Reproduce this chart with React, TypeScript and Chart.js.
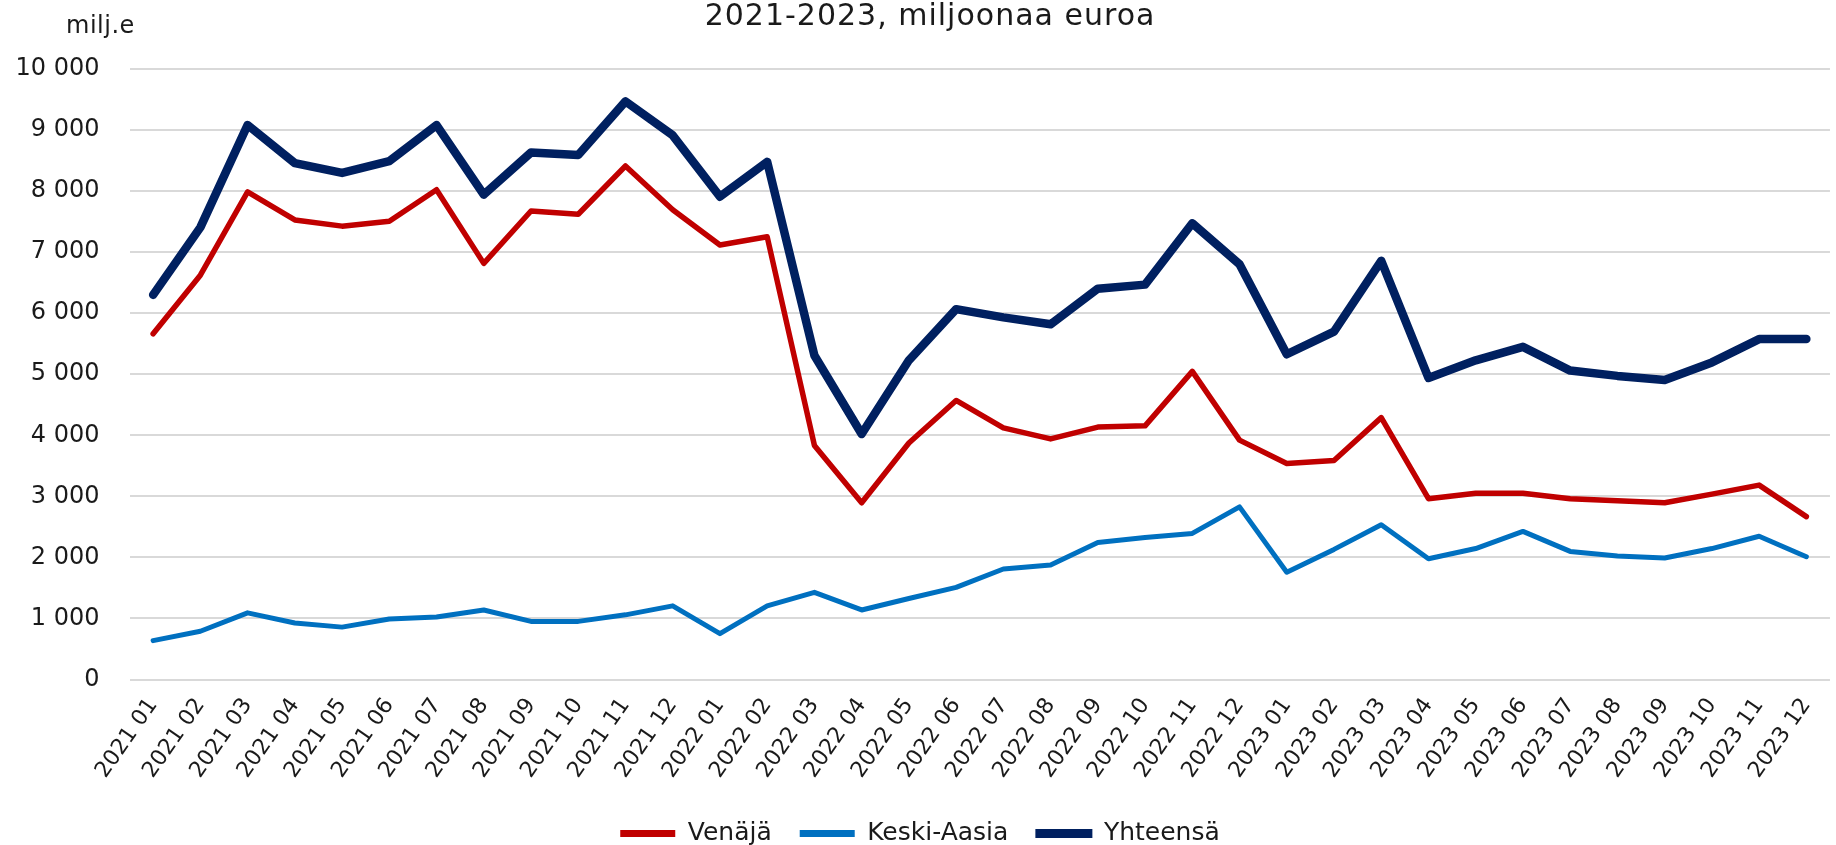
import React, { useEffect, useRef } from "react";
import { Chart, registerables } from "chart.js";

Chart.register(...registerables);

const categories = [
  "2021 01", "2021 02", "2021 03", "2021 04", "2021 05", "2021 06",
  "2021 07", "2021 08", "2021 09", "2021 10", "2021 11", "2021 12",
  "2022 01", "2022 02", "2022 03", "2022 04", "2022 05", "2022 06",
  "2022 07", "2022 08", "2022 09", "2022 10", "2022 11", "2022 12",
  "2023 01", "2023 02", "2023 03", "2023 04", "2023 05", "2023 06",
  "2023 07", "2023 08", "2023 09", "2023 10", "2023 11", "2023 12",
];

const venaja = [
  5663, 6622, 7989, 7527, 7426, 7507, 8023, 6816, 7674, 7621, 8411, 7694,
  7118, 7252, 3834, 2895, 3874, 4571, 4122, 3941, 4135, 4155, 5047, 3921,
  3539, 3586, 4290, 2962, 3050, 3050, 2962, 2929, 2895, 3036, 3184, 2668,
];

const keskiAasia = [
  637, 791, 1092, 925, 858, 992, 1025, 1139, 952, 952, 1059, 1206,
  751, 1206, 1428, 1139, 1327, 1508, 1810, 1877, 2245, 2326, 2393, 2828,
  1756, 2131, 2534, 1977, 2145, 2426, 2098, 2024, 1991, 2145, 2346, 2011,
];

const yhteensa = [
  6300, 7406, 9082, 8458, 8298, 8492, 9082, 7942, 8633, 8592, 9470, 8914,
  7909, 8479, 5308, 4021, 5228, 6066, 5932, 5818, 6401, 6468, 7473, 6803,
  5328, 5697, 6857, 4940, 5228, 5449, 5060, 4973, 4906, 5194, 5576, 5576,
];

const seriesNames = ["Venäjä", "Keski-Aasia", "Yhteensä"];
const seriesColors = ["#C00000", "#0070C0", "#002060"];
const seriesWidths = [5.5, 5, 8.5];

const titleText = "2021-2023, miljoonaa euroa";
const unitText = "milj.e";

const yTicks = { min: 0, max: 10000, step: 1000 };

const fmt = (v: number) => String(v).replace(/\B(?=(\d{3})+(?!\d))/g, " ");

const FONT = "'DejaVu Sans', Verdana, sans-serif";

const textPlugin = {
  id: "textPlugin",
  afterDraw(chart: any) {
    const ctx = chart.ctx as CanvasRenderingContext2D;
    ctx.save();
    ctx.fillStyle = "#1a1a1a";
    ctx.textAlign = "center";
    ctx.textBaseline = "alphabetic";
    ctx.font = `30px ${FONT}`;
    (ctx as any).letterSpacing = "1px";
    ctx.fillText(titleText, 930, 25);
    ctx.textAlign = "left";
    ctx.font = `24px ${FONT}`;
    (ctx as any).letterSpacing = "0.5px";
    ctx.fillText(unitText, 66, 33);
    ctx.restore();
  },
};

export default function App() {
  const ref = useRef<HTMLCanvasElement | null>(null);

  useEffect(() => {
    document.body.style.margin = "0";
    document.body.style.overflow = "hidden";
    const canvas = ref.current;
    if (!canvas) return;
    const datasets = [venaja, keskiAasia, yhteensa].map((d, i) => ({
      label: seriesNames[i],
      data: d,
      borderColor: seriesColors[i],
      backgroundColor: seriesColors[i],
      borderWidth: seriesWidths[i],
      pointRadius: 0,
      pointHoverRadius: 0,
      tension: 0,
      borderCapStyle: "round" as const,
      borderJoinStyle: "round" as const,
      fill: false,
    }));
    const chart = new Chart(canvas, {
      type: "line",
      data: { labels: categories, datasets },
      plugins: [textPlugin],
      options: {
        animation: false,
        responsive: false,
        maintainAspectRatio: false,
        layout: { padding: { top: 69, right: 2, left: 0, bottom: 0 } },
        plugins: {
          title: { display: false },
          tooltip: { enabled: false },
          legend: {
            display: true,
            position: "bottom",
            labels: {
              font: { family: FONT, size: 25 },
              color: "#1a1a1a",
              boxWidth: 55,
              boxHeight: 7,
              padding: 28,
              useBorderRadius: true,
              borderRadius: 3,
              generateLabels: () =>
                seriesNames.map((n, i) => ({
                  text: n,
                  fillStyle: seriesColors[i],
                  strokeStyle: seriesColors[i],
                  lineWidth: i === 2 ? 2 : 0,
                  hidden: false,
                  datasetIndex: i,
                  fontColor: "#1a1a1a",
                })),
            },
          },
        },
        scales: {
          x: {
            offset: true,
            grid: { display: false, drawTicks: false },
            border: { display: false },
            ticks: {
              autoSkip: false,
              minRotation: 55,
              maxRotation: 55,
              padding: 14,
              color: "#1a1a1a",
              font: { family: FONT, size: 22 },
            },
            afterFit: (s: any) => {
              s.height = 113.5;
            },
          },
          y: {
            min: yTicks.min,
            max: yTicks.max,
            grid: { color: "#d9d9d9", lineWidth: 2, drawTicks: false },
            border: { display: false },
            ticks: {
              stepSize: yTicks.step,
              padding: 30,
              color: "#1a1a1a",
              font: { family: FONT, size: 24 },
              callback: (v: any) => fmt(Number(v)),
            },
            afterFit: (s: any) => {
              s.width = 129.5;
            },
          },
        },
      },
    });
    return () => chart.destroy();
  }, []);

  return (
    <div
      style={{
        position: "fixed",
        left: 0,
        top: 0,
        width: 1836,
        height: 845,
        overflow: "hidden",
        background: "#fff",
      }}
    >
      <canvas
        ref={ref}
        width={1842}
        height={856}
        style={{ position: "absolute", left: 0, top: 0, width: 1842, height: 856 }}
      />
    </div>
  );
}
